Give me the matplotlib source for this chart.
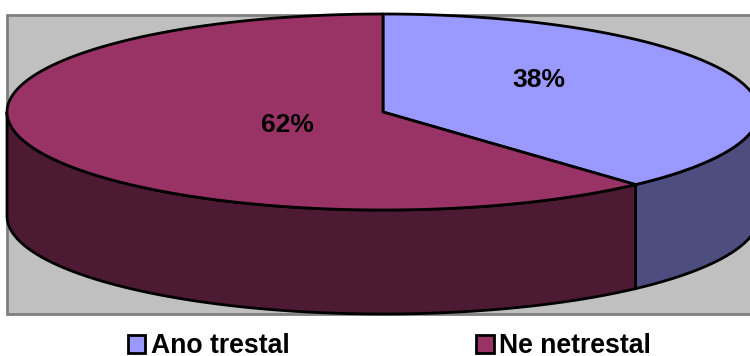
"""
plot.py
3D-look pie chart of the two answer shares, drawn as an extruded ellipse.
"""

import numpy as np
import matplotlib
matplotlib.use("Agg")
import matplotlib.pyplot as plt
from matplotlib.patches import Patch, Polygon, Rectangle

categories = ["Ano trestal", "Ne netrestal"]
shares = [38, 62]
share_labels = ["38%", "62%"]

plt.rcParams["font.family"] = ["Liberation Sans", "DejaVu Sans"]

# Pixel geometry of the tilted pie
CX, CY = 383, 112
RX, RY = 376, 98
DEPTH = 104
SKEW = 1.0  # tilt moves the split a little from the true angle
LW = 2.0

top_colors = ["#9999FF", "#993366"]
side_colors = ["#4D4D80", "#4D1A33"]


def rim(theta_deg, drop=0):
    """Points on the ellipse, theta clockwise from 12 o'clock."""
    t = np.radians(theta_deg)
    return np.column_stack([CX + RX * np.sin(t), CY - RY * np.cos(t) + drop])


def side_panel(start, end):
    arc = np.linspace(start, end, 200)
    return np.vstack([rim(arc), rim(arc[::-1], DEPTH)])


def main():
    fig = plt.figure(figsize=(7.5, 3.56), dpi=100)
    ax = fig.add_axes([0, 0, 1, 1])
    ax.set_xlim(0, 750)
    ax.set_ylim(356, 0)
    ax.axis("off")

    ax.add_patch(Rectangle((7, 15), 760, 299, facecolor="#C0C0C0", edgecolor="#808080", linewidth=2))

    split = shares[0] / sum(shares) * 360 + SKEW

    # Walls first, only the front half of the rim is visible
    ax.add_patch(Polygon(side_panel(90, split), closed=True, facecolor=side_colors[0], edgecolor="black", linewidth=LW))
    ax.add_patch(Polygon(side_panel(split, 270), closed=True, facecolor=side_colors[1], edgecolor="black", linewidth=LW))

    # Top faces
    spans = [(0, split), (split, 360)]
    for (start, end), color in zip(spans, top_colors):
        arc = rim(np.linspace(start, end, 400))
        pts = np.vstack([[CX, CY], arc])
        ax.add_patch(Polygon(pts, closed=True, facecolor=color, edgecolor="black", linewidth=LW, joinstyle="round"))

    ax.text(539, 80, share_labels[0], ha="center", va="center", fontsize=19, fontweight="bold")
    ax.text(287, 125, share_labels[1], ha="center", va="center", fontsize=19, fontweight="bold")

    handles = [Patch(facecolor=c, edgecolor="black", linewidth=2) for c in top_colors]
    fig.legend(
        handles, categories, ncol=2, loc="center", bbox_to_anchor=(0.519, 0.027),
        frameon=False, prop={"size": 19.2, "weight": "bold"},
        handlelength=0.66, handleheight=0.66, handletextpad=0.2, columnspacing=7.0,
        borderpad=0, borderaxespad=0,
    )

    fig.savefig("out.png", dpi=100)


if __name__ == "__main__":
    main()
